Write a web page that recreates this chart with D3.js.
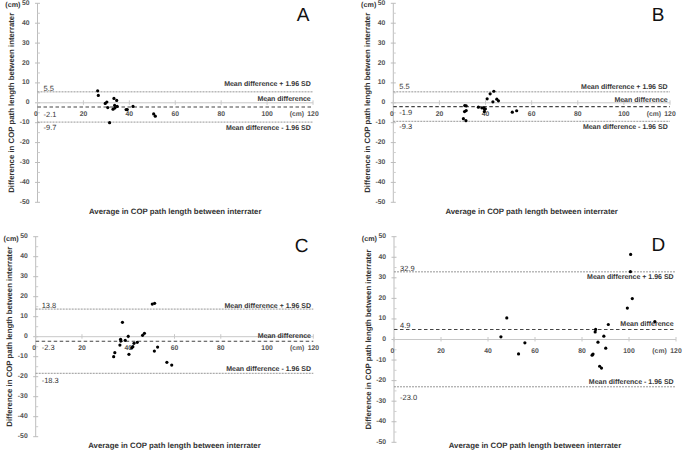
<!DOCTYPE html>
<html><head><meta charset="utf-8">
<script src="https://cdn.jsdelivr.net/npm/d3@7/dist/d3.min.js"></script>
<style>
body{margin:0;background:#fff;}
svg{display:block;font-family:"Liberation Sans",Arial,sans-serif;text-rendering:geometricPrecision;-webkit-font-smoothing:antialiased;}
</style></head>
<body>
<svg id="chart" width="685" height="451"></svg>
<script>
// ---------- data ----------
const panelNames = ["A","B","C","D"];
const avgA  = [26.2,26.5,29.5,30.2,30.6,31.4,33.3,34.5,33.6,32.9,33.7,34.7,38.6,39.1,41.6,50.6,51.3];
const diffA = [6.0,3.7,-0.3,0.4,-2.4,-10.0,2.2,1.2,-1.3,-3.2,-2.6,-1.8,-3.4,-3.4,-1.8,-5.6,-6.7];
const avgB  = [31.0,31.6,30.9,31.6,30.4,31.5,36.9,38.4,39.2,39.6,39.5,39.9,40.7,42.0,43.6,43.2,44.9,45.6,51.6,53.5];
const diffB = [-1.4,-1.5,-4.4,-3.9,-8.0,-9.0,-2.2,-2.5,-2.6,-3.3,-4.4,-3.0,2.0,4.5,5.8,0.5,1.8,1.0,-4.7,-4.0];
const avgC  = [50.4,51.4,37.5,40.0,46.2,47.0,36.7,36.8,38.7,36.4,42.5,43.9,41.5,42.0,40.3,34.2,33.7,51.3,52.7,56.7,58.8];
const diffC = [16.3,16.7,7.2,0.2,0.7,1.7,-1.3,-2.2,-1.8,-4.2,-3.3,-2.8,-5.6,-5.0,-8.8,-8.0,-10.0,-7.2,-5.2,-12.8,-14.2];
const avgD  = [100.7,100.6,101.4,99.3,111.0,91.2,85.8,85.6,89.3,86.8,90.1,84.3,84.7,87.5,88.3,48.0,45.5,55.7,53.0];
const diffD = [41.4,33.0,19.9,15.3,8.7,7.3,4.9,3.7,1.6,-1.3,-4.2,-7.6,-7.1,-13.0,-13.9,10.5,1.3,-1.6,-7.0];
const upperLimits = [5.5, 5.5, 13.8, 32.9];
const meanDiffs   = [-2.1, -1.9, -2.3, 4.9];
const lowerLimits = [-9.7, -9.3, -18.3, -23.0];
const yTicks = [-50,-40,-30,-20,-10,0,10,20,30,40,50];
const yMinorTicks = [-45,-35,-25,-15,-5,5,15,25,35,45];
const xTicks = [0,20,40,60,80,100,120];
const upperText = "Mean difference + 1.96 SD";
const meanText  = "Mean difference";
const lowerText = "Mean difference - 1.96 SD";
const yTitle = "Difference in COP path length between interrater";
const xTitle = "Average in COP path length between interrater";
const unitText = "(cm)";

const avgs = [avgA, avgB, avgC, avgD];
const diffs = [diffA, diffB, diffC, diffD];

// ---------- layout (pixels) ----------
const layout = [
  {x0:37.5, x1:313,   yT:3.3,   yB:202.3, titleY:211, letter:[303,15],
   dy:{uv:-3.4, ut:-7.4, mv:7.4, mt:-7.6, lv:5.3, lt:6.7}},
  {x0:393.3,x1:670,   yT:3.3,   yB:202.3, titleY:211, letter:[658,15],
   dy:{uv:-5.3, ut:-4.6, mv:5.6, mt:-6.1, lv:5.1, lt:5.8}},
  {x0:35.7, x1:313.3, yT:236.7, yB:436.7, titleY:445, letter:[301.7,246.7],
   dy:{uv:-4, ut:-3, mv:6.4, mt:-5.3, lv:6.7, lt:-4.2}},
  {x0:394,  x1:676,   yT:236.7, yB:442.3, titleY:445.5, letter:[658.3,245],
   dy:{uv:-3.2, ut:6, mv:-3.6, mt:-4.6, lv:11, lt:-4.2}}
];

const txt = "#333";
const svg = d3.select("#chart");

panelNames.forEach((name, i) => {
  const L = layout[i];
  const x = d3.scaleLinear().domain([0,120]).range([L.x0, L.x1]);
  const y = d3.scaleLinear().domain([-50,50]).range([L.yB, L.yT]);
  const g = svg.append("g");

  // y axis
  g.append("line").attr("x1",L.x0).attr("x2",L.x0).attr("y1",y(50)).attr("y2",y(-50))
    .attr("stroke","#bdbdbd").attr("stroke-width",1);
  g.selectAll(".ymaj").data(yTicks).join("line")
    .attr("x1",L.x0-2.5).attr("x2",L.x0+2.5).attr("y1",d=>y(d)).attr("y2",d=>y(d))
    .attr("stroke","#bdbdbd");
  g.selectAll(".ymin").data(yMinorTicks).join("line")
    .attr("x1",L.x0).attr("x2",L.x0+2.5).attr("y1",d=>y(d)).attr("y2",d=>y(d))
    .attr("stroke","#cfcfcf");
  g.selectAll(".ylab").data(yTicks).join("text")
    .attr("x",L.x0-8).attr("y",d=>y(d)).attr("text-anchor","end").attr("dominant-baseline","central")
    .attr("font-size",6.8).attr("font-weight","bold").attr("fill","#555").text(d=>d);
  g.append("text").attr("x",L.x0-17).attr("y",y(50)+1.5).attr("text-anchor","end")
    .attr("dominant-baseline","central").attr("font-size",7.2).attr("font-weight","bold")
    .attr("fill",txt).text(unitText);

  // x axis at zero
  g.append("line").attr("x1",x(0)).attr("x2",x(120)).attr("y1",y(0)).attr("y2",y(0))
    .attr("stroke","#c8c8c8").attr("stroke-width",1);
  g.selectAll(".xt").data(xTicks).join("line")
    .attr("x1",d=>x(d)).attr("x2",d=>x(d)).attr("y1",y(0)-2.5).attr("y2",y(0)+2)
    .attr("stroke","#c8c8c8");
  g.selectAll(".xlab").data(xTicks).join("text")
    .attr("x",d=>x(d)+(d===0?-1.5:0)).attr("y",y(0)+12).attr("text-anchor","middle")
    .attr("dominant-baseline","central").attr("font-size",6.8).attr("font-weight","bold")
    .attr("fill","#555").text(d=>d);
  g.append("text").attr("x",x(113)).attr("y",y(0)+12).attr("text-anchor","middle")
    .attr("dominant-baseline","central").attr("font-size",6.8).attr("font-weight","bold")
    .attr("fill","#555").text(unitText);

  // reference lines
  const up = upperLimits[i], mn = meanDiffs[i], lo = lowerLimits[i];
  [up, lo].forEach(v => {
    g.append("line").attr("x1",x(0)).attr("x2",x(120)).attr("y1",y(v)).attr("y2",y(v))
      .attr("stroke","#8a8a8a").attr("stroke-width",0.9).attr("stroke-dasharray","2,1");
  });
  g.append("line").attr("x1",x(0)).attr("x2",x(120)).attr("y1",y(mn)).attr("y2",y(mn))
    .attr("stroke","#444").attr("stroke-width",1.1).attr("stroke-dasharray","3.5,2.5");

  // value labels
  const vlab = (v, dy) => g.append("text").attr("x",L.x0+6).attr("y",y(v)+dy)
    .attr("dominant-baseline","central").attr("font-size",7.5).attr("fill",txt).text(v.toFixed(1));
  vlab(up, L.dy.uv); vlab(mn, L.dy.mv); vlab(lo, L.dy.lv);

  // right text labels
  const tlab = (v, dy, s) => g.append("text").attr("x",x(119)).attr("y",y(v)+dy)
    .attr("text-anchor","end").attr("dominant-baseline","central").attr("font-size",7)
    .attr("font-weight","bold").attr("fill",txt).text(s);
  tlab(up, L.dy.ut, upperText); tlab(mn, L.dy.mt, meanText); tlab(lo, L.dy.lt, lowerText);

  // points
  g.selectAll(".pt").data(avgs[i].map((a,k)=>[a, diffs[i][k]])).join("circle")
    .attr("cx",d=>x(d[0])).attr("cy",d=>y(d[1])).attr("r",1.6).attr("fill","#000");

  // titles
  g.append("text").attr("transform",`translate(${L.x0-26},${(L.yT+L.yB)/2}) rotate(-90)`)
    .attr("text-anchor","middle").attr("dominant-baseline","central").attr("font-size",7.8)
    .attr("font-weight","bold").attr("fill",txt).text(yTitle);
  g.append("text").attr("x",x(60)).attr("y",L.titleY).attr("text-anchor","middle")
    .attr("dominant-baseline","central").attr("font-size",7.8).attr("font-weight","bold")
    .attr("fill",txt).text(xTitle);

  // panel letter
  g.append("text").attr("x",L.letter[0]).attr("y",L.letter[1]).attr("text-anchor","middle")
    .attr("dominant-baseline","central").attr("font-size",19).attr("fill","#111").text(name);
});
</script>
</body></html>
